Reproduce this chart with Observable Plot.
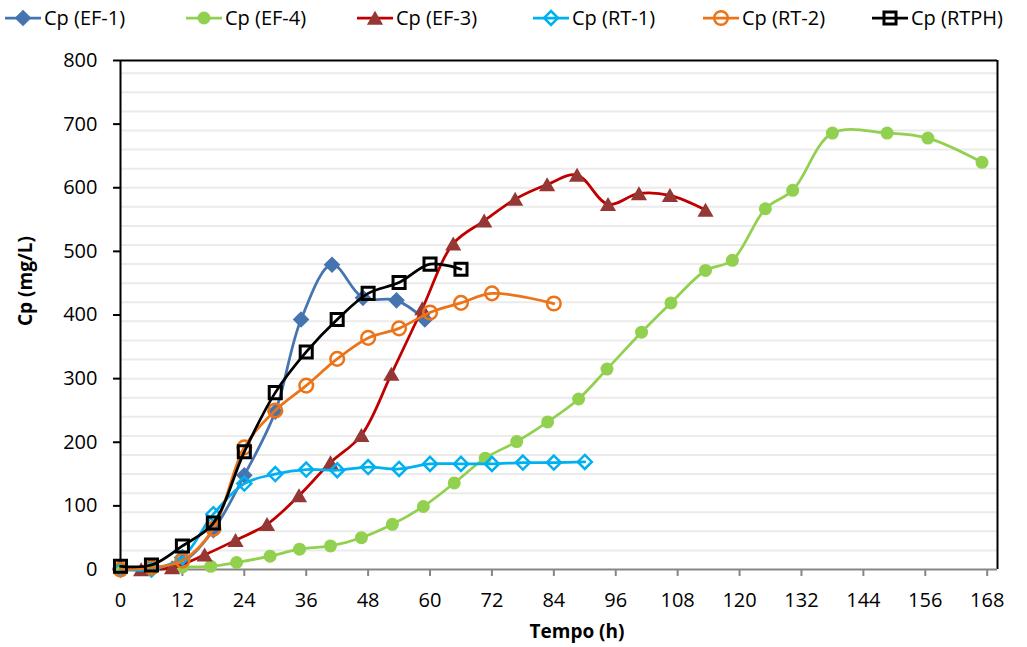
<!DOCTYPE html>
<html><head><meta charset="utf-8">
<script src="https://cdn.jsdelivr.net/npm/d3@7"></script>
<script src="https://cdn.jsdelivr.net/npm/@observablehq/plot@0.6"></script>
<style>
body{margin:0;background:#fff;font-family:"Open Sans",sans-serif;}
#legend{height:36px;width:1027px;}
#legend svg, #chart svg{display:block;}
</style></head><body>
<div id="legend"></div>
<div id="chart"></div>
<script>
// ---- data ----
const seriesNames = ["Cp (EF-1)","Cp (EF-4)","Cp (EF-3)","Cp (RT-1)","Cp (RT-2)","Cp (RTPH)"];

const ef1T = [0,6,12,18,24,30,35,41,47,53.5,59];
const ef1V = [2,3,12,62,148,248,393,479,427,423,393];

const ef4T = [0,6,12,17.5,22.5,29,34.7,40.7,46.7,52.7,58.7,64.7,70.7,76.8,82.8,88.8,94.3,101,106.7,113.4,118.6,125,130.3,138,148.6,156.5,167];
const ef4V = [0,1,4,5,11,21,32,37,50,71,99,136,175,201,232,268,315,373,419,470,486,567,596,686,686,678,640];

const ef3T = [4,10,16.3,22.3,28.4,34.6,40.7,46.7,52.5,58.5,64.5,70.5,76.5,82.7,88.5,94.5,100.5,106.5,113.4];
const ef3V = [0,3,23,46,71,116,168,211,307,410,512,548,582,605,620,574,591,588,565];

const rt1T = [0,6,12,18,24,30,36,42,48,54,60,66,72,78,84,90];
const rt1V = [0,0,19,87,135,150,157,156,161,158,166,166,166,168,168,169];

const rt2T = [0,6,12,18,24,30,36,42,48,54,60,66,72,84];
const rt2V = [0,3,14,64,192,250,289,331,364,379,404,419,434,418];

const rtphT = [0,6,12,18,24,30,36,42,48,54,60,66];
const rtphV = [5,7,37,73,185,278,342,393,434,451,480,472];

const xTicks = [0,12,24,36,48,60,72,84,96,108,120,132,144,156,168];
const yTicks = [0,100,200,300,400,500,600,700,800];
const yGrid = d3.range(30, 800, 30);

// ---- styles ----
const lineColors   = ["#4674B0","#92D050","#C00000","#00B0F0","#EC7418","#000000"];
const markerFill   = ["#4674B0","#92D050","#953735","none","none","none"];
const markerStroke = ["none","none","none","#00B0F0","#EC7418","#000000"];
const markerSW     = [0,0,0,2.5,2.5,3];
const symbols      = ["diamond2","circle","triangle","diamond2","circle","square"];
const radii        = [7.5,6.5,6,6.3,6.8,6.8];
const markerDy     = [0,0,2,0,0,0];
const legendLeft   = [5,186,357,533,703,872];

const times = [ef1T, ef4T, ef3T, rt1T, rt2T, rtphT];
const vals  = [ef1V, ef4V, ef3V, rt1V, rt2V, rtphV];
const series = seriesNames.map((name, i) => ({
  name, rows: times[i].map((t, j) => ({t, v: vals[i][j]}))
}));

const font = '"Open Sans", sans-serif';

// ---- legend ----
const d3sym = {diamond2: d3.symbolDiamond2, circle: d3.symbolCircle, triangle: d3.symbolTriangle, square: d3.symbolSquare};
const lsvg = d3.select("#legend").append("svg").attr("width", 1027).attr("height", 36)
  .style("font-family", font);
series.forEach((s, i) => {
  const g = lsvg.append("g").attr("transform", `translate(${legendLeft[i]},18)`);
  g.append("line").attr("x1", 0).attr("x2", 36).attr("y1", 0).attr("y2", 0)
    .attr("stroke", lineColors[i]).attr("stroke-width", 2.75);
  g.append("path").attr("d", d3.symbol(d3sym[symbols[i]], Math.PI * radii[i] * radii[i])())
    .attr("transform", `translate(18,${markerDy[i]})`)
    .attr("fill", markerFill[i]).attr("stroke", markerStroke[i]).attr("stroke-width", markerSW[i]);
  g.append("text").attr("x", 39).attr("dy", "0.35em").attr("font-size", 20).attr("fill", "black").text(s.name);
});

// ---- chart ----
const seriesMarks = series.flatMap((s, i) => [
  Plot.line(s.rows, {x: "t", y: "v", stroke: lineColors[i], strokeWidth: 2.75, curve: "catmull-rom"}),
  Plot.dot(s.rows, {x: "t", y: "v", symbol: symbols[i], r: radii[i], fill: markerFill[i],
    stroke: markerStroke[i], strokeWidth: markerSW[i], dy: markerDy[i]})
]);

const chart = Plot.plot({
  width: 1027, height: 611,
  marginTop: 24, marginLeft: 120, marginRight: 30, marginBottom: 78,
  style: {fontFamily: font, fontSize: "20px", background: "white", color: "black"},
  x: {domain: [0, 170]},
  y: {domain: [0, 800]},
  marks: [
    Plot.ruleY(yGrid, {stroke: "#ebebeb", strokeWidth: 2}),
    Plot.axisY(yTicks, {tickSize: 7, tickPadding: 16, stroke: "black", strokeWidth: 2, fill: "black", label: null, fontSize: 20}),
    Plot.axisX(xTicks, {tickSize: 7, tickPadding: 16, stroke: "#868686", strokeWidth: 2, fill: "black", label: null, fontSize: 20}),
    Plot.ruleY([800], {stroke: "black", strokeWidth: 2}),
    Plot.ruleX([170], {stroke: "black", strokeWidth: 2}),
    Plot.ruleY([0], {stroke: "#868686", strokeWidth: 2}),
    Plot.ruleX([0], {stroke: "black", strokeWidth: 2}),
    ...seriesMarks,
    Plot.text(["Tempo (h)"], {frameAnchor: "bottom", dx: 18, dy: 68, fontWeight: "bold", fontSize: 19, fill: "black"}),
    Plot.text(["Cp (mg/L)"], {frameAnchor: "left", dx: -95, dy: 11, rotate: -90, fontWeight: "bold", fontSize: 19, fill: "black"})
  ]
});
document.getElementById("chart").appendChild(chart);
</script>
</body></html>
